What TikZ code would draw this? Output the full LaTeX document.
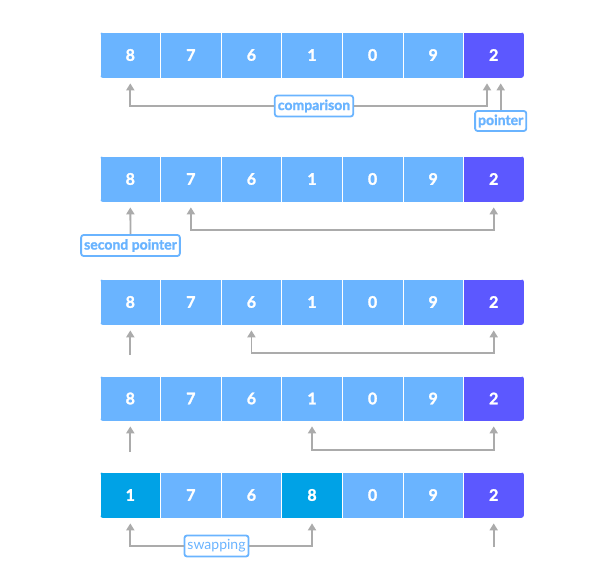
\documentclass[tikz,border=0pt]{standalone}
\usepackage{fontspec}
\setmainfont{Lato}[BoldFeatures={FakeBold=1.6}]
\usetikzlibrary{arrows.meta}
\definecolor{cellblue}{HTML}{6AB4FF}
\definecolor{pivotblue}{HTML}{5C58FF}
\definecolor{swapblue}{HTML}{00A2E6}
\definecolor{tagblue}{HTML}{6AB4FF}
\definecolor{linkgray}{HTML}{ABABAB}
\tikzset{
  cell/.style={minimum width=60.57pt, minimum height=46pt, inner sep=0pt, fill=cellblue, draw=white, line width=0.7pt, text=white, font=\bfseries\fontsize{16}{16}\selectfont},
  pivot/.style={cell, fill=pivotblue},
  swapped/.style={cell, fill=swapblue},
  tag/.style={draw=tagblue, line width=1.8pt, rounded corners=2.5pt, fill=white, text=tagblue, font=\bfseries\fontsize{14}{14}\selectfont, inner xsep=3pt, inner ysep=1pt, minimum height=21pt},
  link/.style={draw=linkgray, line width=1.8pt, -{Triangle[width=8pt,length=7pt]}},
  twoway/.style={link, {Triangle[width=8pt,length=7pt]}-{Triangle[width=8pt,length=7pt]}},
}
\begin{document}
\begin{tikzpicture}[x=1pt, y=-1pt]
    \useasboundingbox (0,0) rectangle (599,567);
    % first pass: compare 8 with the pivot
    \begin{scope}
        \clip[rounded corners=3pt] (100,32) rectangle (524,78);
        \foreach \v [count=\i from 0] in {8,7,6,1,0,9}
            \node[cell] (r1c\i) at (130.3+60.57*\i,55) {\v};
        \node[pivot] (r1c6) at (493.7,55) {2};
    \end{scope}
    \node[tag] (cmp) at (314,106) {comparison};
    \draw[link] (cmp.west) -| ([yshift=-5pt]r1c0.south);
    \draw[link] (cmp.east) -| ([xshift=-6.7pt,yshift=-5pt]r1c6.south);
    \node[tag, minimum height=20pt] (ptr) at (500.7,121) {pointer};
    \draw[link] (ptr.north) -- ([xshift=7pt,yshift=-5pt]r1c6.south);

    % second pass
    \begin{scope}
        \clip[rounded corners=3pt] (100,156) rectangle (524,202);
        \foreach \v [count=\i from 0] in {8,7,6,1,0,9}
            \node[cell] (r2c\i) at (130.3+60.57*\i,179) {\v};
        \node[pivot] (r2c6) at (493.7,179) {2};
    \end{scope}
    \node[tag] (second) at (130.5,245.5) {second pointer};
    \draw[link] (second.north) -- ([yshift=-5pt]r2c0.south);
    \coordinate (r2h) at (300,230);
    \draw[twoway] ([yshift=-5pt]r2c1.south) |- (r2h) -| ([yshift=-5pt]r2c6.south);

    % third pass
    \begin{scope}
        \clip[rounded corners=3pt] (100,279) rectangle (524,325);
        \foreach \v [count=\i from 0] in {8,7,6,1,0,9}
            \node[cell] (r3c\i) at (130.3+60.57*\i,302) {\v};
        \node[pivot] (r3c6) at (493.7,302) {2};
    \end{scope}
    \coordinate (r3free) at (130.3,355);
    \draw[link] (r3free) -- ([yshift=-5pt]r3c0.south);
    \coordinate (r3h) at (400,353);
    \draw[twoway] ([yshift=-5pt]r3c2.south) |- (r3h) -| ([yshift=-5pt]r3c6.south);

    % fourth pass
    \begin{scope}
        \clip[rounded corners=3pt] (100,376) rectangle (524,421);
        \foreach \v [count=\i from 0] in {8,7,6,1,0,9}
            \node[cell, minimum height=45pt] (r4c\i) at (130.3+60.57*\i,398.5) {\v};
        \node[pivot, minimum height=45pt] (r4c6) at (493.7,398.5) {2};
    \end{scope}
    \coordinate (r4free) at (130.3,452);
    \draw[link] (r4free) -- ([yshift=-5pt]r4c0.south);
    \coordinate (r4h) at (400,450);
    \draw[twoway] ([yshift=-5pt]r4c3.south) |- (r4h) -| ([yshift=-5pt]r4c6.south);

    % swap 8 and 1
    \begin{scope}
        \clip[rounded corners=3pt] (100,472) rectangle (524,518);
        \foreach \v/\s [count=\i from 0] in {1/swapped,7/cell,6/cell,8/swapped,0/cell,9/cell}
            \node[\s] (r5c\i) at (130.3+60.57*\i,495) {\v};
        \node[pivot] (r5c6) at (493.7,495) {2};
    \end{scope}
    \node[tag, font=\fontsize{14}{14}\selectfont] (swap) at (216.5,546) {swapping};
    \draw[link] (swap.west) -| ([yshift=-5pt]r5c0.south);
    \draw[link] (swap.east) -| ([yshift=-5pt]r5c3.south);
    \coordinate (r5free) at (493.7,547);
    \draw[link] (r5free) -- ([yshift=-5pt]r5c6.south);
\end{tikzpicture}
\end{document}
